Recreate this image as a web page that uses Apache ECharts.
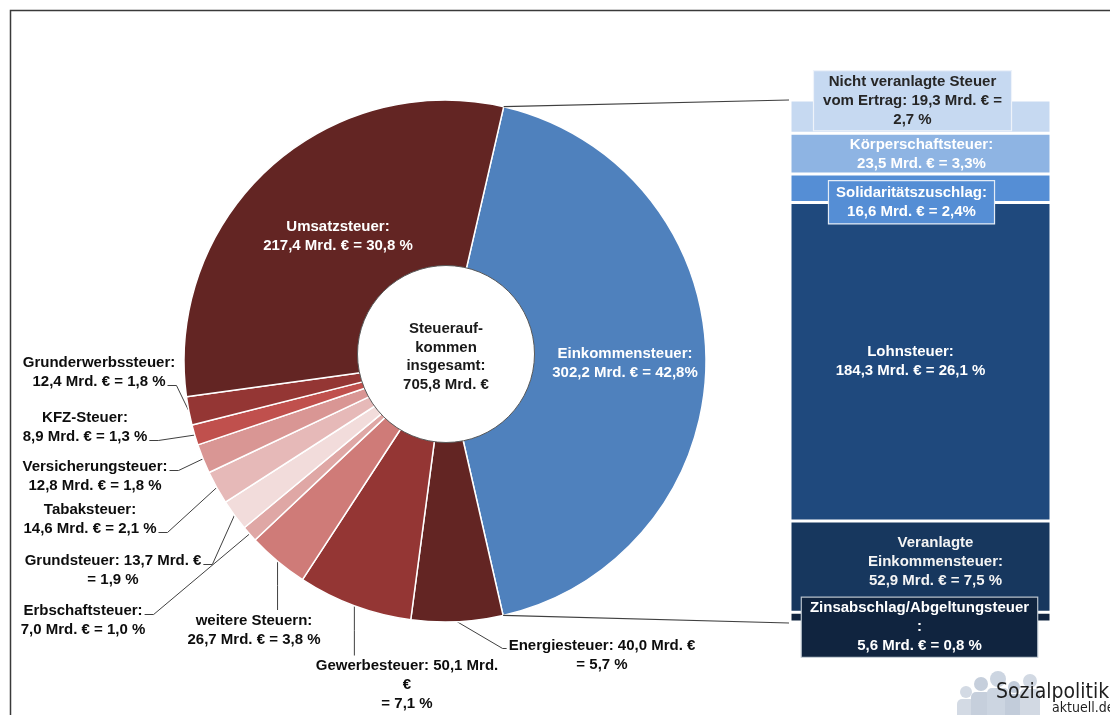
<!DOCTYPE html>
<html><head><meta charset="utf-8">
<script src="https://cdn.jsdelivr.net/npm/echarts@6/dist/echarts.min.js"></script>
<style>html,body{margin:0;padding:0;background:#fff}#c{width:1110px;height:715px}</style>
</head><body><div id="c"></div>
<script>
// ---------- data ----------
const pieNames = ['Einkommensteuer','Energiesteuer','Gewerbesteuer','weitere Steuern','Erbschaftsteuer','Grundsteuer','Tabaksteuer','Versicherungsteuer','KFZ-Steuer','Grunderwerbssteuer','Umsatzsteuer'];
const pieValues = [302.2, 40.0, 50.1, 26.7, 7.0, 13.7, 14.6, 12.8, 8.9, 12.4, 217.4];
const pieLabels = [
  'Einkommensteuer:\n302,2 Mrd. € = 42,8%',
  'Energiesteuer: 40,0 Mrd. €\n= 5,7 %',
  'Gewerbesteuer: 50,1 Mrd.\n€\n= 7,1 %',
  'weitere Steuern:\n26,7 Mrd. € = 3,8 %',
  'Erbschaftsteuer:\n7,0 Mrd. € = 1,0 %',
  'Grundsteuer: 13,7 Mrd. €\n= 1,9 %',
  'Tabaksteuer:\n14,6 Mrd. € = 2,1 %',
  'Versicherungsteuer:\n12,8 Mrd. € = 1,8 %',
  'KFZ-Steuer:\n8,9 Mrd. € = 1,3 %',
  'Grunderwerbssteuer:\n12,4 Mrd. € = 1,8 %',
  'Umsatzsteuer:\n217,4 Mrd. € = 30,8 %'
];
const totalValue = 705.8;
const totalLabel = 'Steuerauf-\nkommen\ninsgesamt:\n705,8 Mrd. €';
const barNames = ['Nicht veranlagte Steuer vom Ertrag','Körperschaftsteuer','Solidaritätszuschlag','Lohnsteuer','Veranlagte Einkommensteuer','Zinsabschlag/Abgeltungsteuer'];
const barValues = [19.3, 23.5, 16.6, 184.3, 52.9, 5.6];
const barLabels = [
  'Nicht veranlagte Steuer\nvom Ertrag: 19,3 Mrd. € =\n2,7 %',
  'Körperschaftsteuer:\n23,5 Mrd. € = 3,3%',
  'Solidaritätszuschlag:\n16,6 Mrd. € = 2,4%',
  'Lohnsteuer:\n184,3 Mrd. € = 26,1 %',
  'Veranlagte\nEinkommensteuer:\n52,9 Mrd. € = 7,5 %',
  'Zinsabschlag/Abgeltungsteuer\n:\n5,6 Mrd. € = 0,8 %'
];

// ---------- styles / layout ----------
const FONT = '"Liberation Sans", Arial, sans-serif';
const LH = 19;
const pieColors = ['#4f81bd','#632523','#943634','#cf7b78','#dfa7a5','#f2dcdb','#e6b9b8','#d99694','#c0504d','#943634','#632523'];
const barColors = ['#c6d9f1','#8eb4e3','#558ed5','#1f497d','#17375e','#10243f'];
const PIE = {cx: 445, cy: 361, r0: 80, r: 261, start: 77};
const HOLE = {cx: 446, cy: 354, r: 88.5};
const GRID = {left: 790, top: 100, width: 261, height: 522};
const pieLabelPos = [
  {x: 625, y: 363},
  {x: 602, y: 655, mode: 'left'},
  {x: 407, y: 685, mode: 'top'},
  {x: 254, y: 630, mode: 'top'},
  {x: 83,  y: 620, mode: 'right', line: 0},
  {x: 113, y: 570, mode: 'right', line: 0},
  {x: 90,  y: 519, mode: 'right', line: 1},
  {x: 95,  y: 476, mode: 'right', line: 0},
  {x: 85,  y: 427, mode: 'right', line: 1},
  {x: 99,  y: 372, mode: 'right', line: 1},
  {x: 338, y: 236}
];
const barLabelStyle = [
  {offset: [-8, -16], color: '#262626', bg: '#c6d9f1', border: '#eef3fa', pad: [1, 9]},
  {offset: [1, 1], color: '#ffffff'},
  {offset: [-9, 14], color: '#ffffff', bg: '#558ed5', border: '#e4ecf6', pad: [2, 7]},
  {offset: [-10, 0], color: '#ffffff'},
  {offset: [15, -5], color: '#f4f4f4'},
  {offset: [-1, 10], color: '#ffffff', bg: '#10243f', border: '#b8c2cc', pad: [1, 8]}
];

const ctx = document.createElement('canvas').getContext('2d');
ctx.font = 'bold 15px "Liberation Sans"';
const tw = s => ctx.measureText(s).width;

const chart = echarts.init(document.getElementById('c'), null, {renderer: 'canvas'});

const pieData = pieValues.map((v, i) => {
  const d = {value: v, name: pieNames[i], itemStyle: {color: pieColors[i]}};
  if (!pieLabelPos[i].mode) d.label = {position: 'inside', color: '#ffffff'};
  return d;
});

const barSeries = barValues.map((v, i) => {
  const s = barLabelStyle[i];
  const label = {
    show: true, position: 'inside', offset: s.offset, formatter: barLabels[i],
    color: s.color, fontFamily: FONT, fontWeight: 'bold', fontSize: 15, lineHeight: LH, align: 'center'
  };
  if (s.bg) {
    label.backgroundColor = s.bg; label.borderColor = s.border; label.borderWidth = 1.2; label.padding = s.pad;
  }
  return {
    type: 'bar', name: barNames[i], stack: 'ek', barWidth: '100%', data: [v],
    itemStyle: {color: barColors[i], borderColor: '#ffffff', borderWidth: 1.5},
    label: label, z: 2
  };
});

chart.setOption({
  animation: false,
  backgroundColor: '#ffffff',
  grid: {left: GRID.left, top: GRID.top, width: GRID.width, height: GRID.height},
  xAxis: {type: 'category', data: ['Einkommensteuer'], show: false},
  yAxis: {type: 'value', min: 0, max: barValues.reduce((a, b) => a + b, 0), inverse: true, show: false},
  series: [
    {
      type: 'pie', center: [PIE.cx, PIE.cy], radius: [PIE.r0, PIE.r], startAngle: PIE.start,
      avoidLabelOverlap: false, silent: true, data: pieData,
      itemStyle: {borderColor: '#ffffff', borderWidth: 1.5},
      label: {
        show: true, position: 'outside', formatter: p => pieLabels[p.dataIndex],
        color: '#0d0d0d', fontFamily: FONT, fontWeight: 'bold', fontSize: 15, lineHeight: LH, align: 'center'
      },
      labelLine: {show: true, length: 10, length2: 10, lineStyle: {color: '#404040', width: 1}},
      labelLayout: function (p) {
        const L = pieLabelPos[p.dataIndex];
        const res = {x: L.x, y: L.y, align: 'center', verticalAlign: 'middle'};
        if (!L.mode || !p.labelLinePoints) return res;
        const lines = pieLabels[p.dataIndex].split('\n');
        const top = L.y - lines.length * LH / 2;
        const p0 = p.labelLinePoints[0];
        if (L.mode === 'right') {
          const ax = L.x + tw(lines[L.line]) / 2 + 2;
          const ay = top + LH * L.line + LH / 2 + 4;
          res.labelLinePoints = [p0, [ax + 9, ay], [ax, ay]];
        } else if (L.mode === 'left') {
          const ax = L.x - tw(lines[0]) / 2 - 6;
          const ay = top + LH / 2 + 3;
          res.labelLinePoints = [p0, [ax, ay], [ax + 4, ay]];
        } else {
          res.labelLinePoints = [p0, [p0[0], (p0[1] + top - 1) / 2], [p0[0], top - 1]];
        }
        return res;
      },
      z: 2
    },
    {
      type: 'pie', center: [HOLE.cx, HOLE.cy], radius: [0, HOLE.r], silent: true,
      data: [{value: totalValue, name: 'Steueraufkommen insgesamt'}],
      itemStyle: {color: '#ffffff', borderColor: '#5a5a5a', borderWidth: 1},
      label: {
        show: true, position: 'center', formatter: totalLabel, offset: [0, 3],
        color: '#1a1a1a', fontFamily: FONT, fontWeight: 'bold', fontSize: 15, lineHeight: 18.5
      },
      labelLine: {show: false}, z: 3
    }
  ].concat(barSeries)
});

// connector lines from the Einkommensteuer slice to the breakdown bar
const pieTotal = pieValues.reduce((a, b) => a + b, 0);
const a0 = PIE.start * Math.PI / 180;
const a1 = (PIE.start - 360 * pieValues[0] / pieTotal) * Math.PI / 180;
const pA = [PIE.cx + PIE.r * Math.cos(a0), PIE.cy - PIE.r * Math.sin(a0)];
const pB = [PIE.cx + PIE.r * Math.cos(a1), PIE.cy - PIE.r * Math.sin(a1)];
const barTotal = barValues.reduce((a, b) => a + b, 0);
const yTop = chart.convertToPixel({yAxisIndex: 0}, 0);
const yBot = chart.convertToPixel({yAxisIndex: 0}, barTotal);
const xLeft = GRID.left - 1;

// faint logo figures (decoration)
const logoFig = [];
[[966, 692, 6, '#d3dae4'], [981, 684, 7, '#c6cfdc'], [998, 679, 8, '#ccd5e1'], [1014, 687, 6, '#c2ccda'], [1030, 681, 7, '#d2d9e3']]
  .forEach(f => {
    logoFig.push({type: 'circle', silent: true, shape: {cx: f[0], cy: f[1], r: f[2]}, style: {fill: f[3]}, z: 9});
    logoFig.push({type: 'rect', silent: true, shape: {x: f[0] - f[2] - 3, y: f[1] + f[2] + 1, width: 2 * f[2] + 6, height: 40, r: 5}, style: {fill: f[3]}, z: 9});
  });

chart.setOption({
  graphic: [
    {type: 'rect', silent: true, shape: {x: 10.5, y: 10.5, width: 1300, height: 900},
     style: {fill: null, stroke: '#3a3a3a', lineWidth: 1.5}, z: 0},
    {type: 'polyline', silent: true, shape: {points: [pA, [xLeft, yTop]]},
     style: {stroke: '#404040', lineWidth: 1.2, fill: null}, z: 10},
    {type: 'polyline', silent: true, shape: {points: [pB, [xLeft, yBot + 1]]},
     style: {stroke: '#404040', lineWidth: 1.2, fill: null}, z: 10}
  ].concat(logoFig).concat([
    {type: 'text', silent: true, x: 996, y: 682,
     style: {text: 'Sozialpolitik-', font: '21px "DejaVu Sans Condensed", "DejaVu Sans", sans-serif', fill: '#1e1e1e'}, z: 10},
    {type: 'text', silent: true, x: 1052, y: 701,
     style: {text: 'aktuell.de', font: '14px "DejaVu Sans Condensed", "DejaVu Sans", sans-serif', fill: '#1e1e1e'}, z: 10}
  ])
});
</script>
</body></html>
